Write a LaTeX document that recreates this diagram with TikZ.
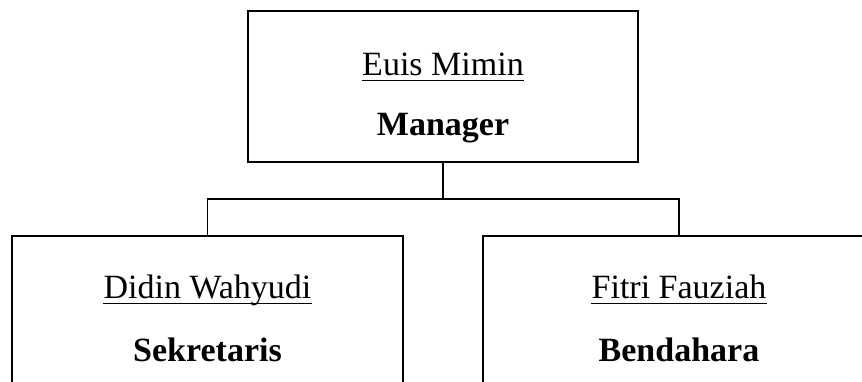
\documentclass[tikz,border=0pt]{standalone}
\usepackage{fontspec}
\setmainfont{Liberation Serif}
\begin{document}
\begin{tikzpicture}[x=1pt,y=-1pt,
  box/.style={draw, line width=2pt, inner sep=0pt},
  person/.style={inner sep=0pt, anchor=base, font=\fontsize{34}{40}\selectfont},
  role/.style={inner sep=0pt, anchor=base, font=\fontsize{34}{40}\selectfont\bfseries},
  ul/.style={line width=1.4pt},
  conn/.style={line width=1.6pt}]
\useasboundingbox (0,0) rectangle (862,381);
\node[box, minimum width=390pt, minimum height=151pt] (top) at (443,86.5) {};
\node[box, minimum width=391pt, minimum height=151pt] (left) at (207.5,311.5) {};
\node[box, minimum width=392pt, minimum height=151pt] (right) at (679,311.5) {};
\node[person] (n1) at (443,75) {Euis Mimin};
\node[role] (r1) at (443,135) {Manager};
\node[person] (n2) at (207.5,298) {Didin Wahyudi};
\node[role] (r2) at (207.5,361) {Sekretaris};
\node[person] (n3) at (679,298) {Fitri Fauziah};
\node[role] (r3) at (679,361) {Bendahara};
\draw[ul] ([yshift=-5.5pt]n1.base west) -- ([yshift=-5.5pt]n1.base east);
\draw[ul] ([yshift=-5.5pt]n2.base west) -- ([yshift=-5.5pt]n2.base east);
\draw[ul] ([yshift=-5.5pt]n3.base west) -- ([yshift=-5.5pt]n3.base east);
\coordinate (bus) at (443,199);
\draw[conn] (top.south) -- (bus);
\draw[conn] (left.north) -- (left.north |- bus) -| (right.north);
\end{tikzpicture}
\end{document}
